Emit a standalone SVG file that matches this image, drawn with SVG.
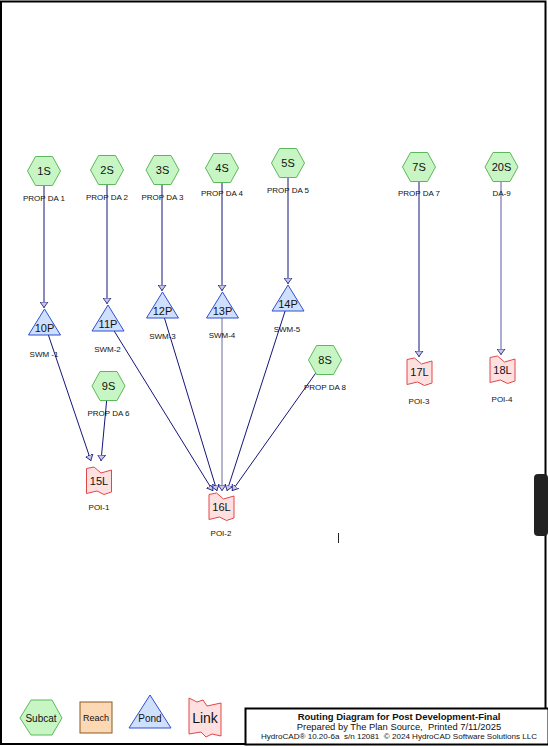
<svg xmlns="http://www.w3.org/2000/svg" width="548" height="747" viewBox="0 0 548 747">
<style>
text{font-family:"Liberation Sans",Arial,sans-serif;fill:#111;text-anchor:middle}
.id{font-size:11px}
.lb{font-size:8px}
.hex{fill:#c8f5c4;stroke:#5cb85c;stroke-width:1}
.pond{fill:#cfe0ff;stroke:#2f4fd0;stroke-width:1}
.link{fill:#ffe0e0;stroke:#e04848;stroke-width:1}
.reach{fill:#fdd8b4;stroke:#8a5a20;stroke-width:1}
.c{fill:none;stroke:#15157a;stroke-width:1;marker-end:url(#ah)}
</style>
<defs>
<marker id="ah" viewBox="0 0 6 9" refX="6" refY="4.5" markerWidth="6" markerHeight="9" markerUnits="userSpaceOnUse" orient="auto">
<path d="M0,0.5 L5.5,4.5 L0,8.5 Z" fill="#c6c8e6" stroke="#15157a" stroke-width="0.8"/>
</marker>
<path id="hx" d="M-16.5,0 L-8.5,-14.5 L8.5,-14.5 L16.5,0 L8.5,14.5 L-8.5,14.5 Z"/>
<path id="tri" d="M0,0 L16,26 L-16,26 Z"/>
<path id="lk" d="M-12.5,-12.5 L-5,-14 L2,-8 L12.5,-11 L12.5,11 L5,13.5 L-2,10 L-12.5,12.5 Z"/>
</defs>
<rect x="1" y="1.5" width="544.5" height="742.5" fill="#fff" stroke="#000" stroke-width="2"/>
<rect x="534" y="474" width="14" height="62" rx="4" fill="#222"/>
<g id="connectors">
<path class="c" d="M44,172 L44,308"/>
<path class="c" d="M107,170 L107,304"/>
<path class="c" d="M162,170 L162,291"/>
<path class="c" d="M222,168 L222,291"/>
<path class="c" d="M288,163 L288,284"/>
<path class="c" d="M419,167 L419,357"/>
<path class="c" d="M501,167 L501,355" style="stroke:#5a5aa8"/>
<path class="c" d="M45,325 L91,461"/>
<path class="c" d="M108,386 L101,461"/>
<path class="c" d="M108,321 L213,491"/>
<path class="c" d="M162,310 L217,491"/>
<path class="c" d="M222,305 L222,491" style="stroke:#6a6a9a"/>
<path class="c" d="M288,302 L227,491"/>
<path class="c" d="M325,360 L232,491"/>
</g>
<g id="n1S"><use href="#hx" x="44" y="171" class="hex"/><text class="id" x="44" y="175">1S</text><text class="lb" x="44" y="201">PROP DA 1</text></g>
<g id="n2S"><use href="#hx" x="107" y="170" class="hex"/><text class="id" x="107" y="174">2S</text><text class="lb" x="107" y="200">PROP DA 2</text></g>
<g id="n3S"><use href="#hx" x="162.5" y="170" class="hex"/><text class="id" x="162.5" y="174">3S</text><text class="lb" x="162.5" y="200">PROP DA 3</text></g>
<g id="n4S"><use href="#hx" x="222" y="168" class="hex"/><text class="id" x="222" y="172">4S</text><text class="lb" x="222" y="196">PROP DA 4</text></g>
<g id="n5S"><use href="#hx" x="288" y="163" class="hex"/><text class="id" x="288" y="167">5S</text><text class="lb" x="288" y="193">PROP DA 5</text></g>
<g id="n7S"><use href="#hx" x="419" y="167" class="hex"/><text class="id" x="419" y="171">7S</text><text class="lb" x="419" y="196">PROP DA 7</text></g>
<g id="n20S"><use href="#hx" x="501.5" y="167" class="hex"/><text class="id" x="501.5" y="171">20S</text><text class="lb" x="501.5" y="196">DA-9</text></g>
<g id="n8S"><use href="#hx" x="325" y="360" class="hex"/><text class="id" x="325" y="364">8S</text><text class="lb" x="325" y="390">PROP DA 8</text></g>
<g id="n9S"><use href="#hx" x="108.5" y="386" class="hex"/><text class="id" x="108.5" y="390">9S</text><text class="lb" x="108.5" y="416">PROP DA 6</text></g>
<g id="n10P"><use href="#tri" x="44.5" y="309" class="pond"/><text class="id" x="44.5" y="332">10P</text><text class="lb" x="44" y="357">SWM -1</text></g>
<g id="n11P"><use href="#tri" x="108" y="305" class="pond"/><text class="id" x="108" y="328">11P</text><text class="lb" x="107.5" y="352">SWM-2</text></g>
<g id="n12P"><use href="#tri" x="162.5" y="292" class="pond"/><text class="id" x="162.5" y="315">12P</text><text class="lb" x="162.5" y="339">SWM-3</text></g>
<g id="n13P"><use href="#tri" x="222.5" y="292" class="pond"/><text class="id" x="222.5" y="315">13P</text><text class="lb" x="222" y="338">SWM-4</text></g>
<g id="n14P"><use href="#tri" x="288" y="285" class="pond"/><text class="id" x="288" y="308">14P</text><text class="lb" x="287" y="332">SWM-5</text></g>
<g id="n15L"><use href="#lk" x="99" y="481" class="link"/><text class="id" x="99" y="485">15L</text><text class="lb" x="99" y="510">POI-1</text></g>
<g id="n16L"><use href="#lk" x="221.5" y="507" class="link"/><text class="id" x="221.5" y="511">16L</text><text class="lb" x="221" y="536">POI-2</text></g>
<g id="n17L"><use href="#lk" x="419.5" y="372" class="link"/><text class="id" x="419.5" y="376">17L</text><text class="lb" x="419" y="404">POI-3</text></g>
<g id="n18L"><use href="#lk" x="502.5" y="370" class="link"/><text class="id" x="502.5" y="374">18L</text><text class="lb" x="502" y="402">POI-4</text></g>
<line x1="338.5" y1="533" x2="338.5" y2="543" stroke="#222" stroke-width="1"/>
<g id="legend">
<path d="M20,718 L31,700 L52,700 L62,718 L52,735 L31,735 Z" class="hex"/>
<text x="41" y="722" style="font-size:10px">Subcat</text>
<rect x="80" y="702" width="32" height="31" class="reach"/>
<text x="96" y="721" style="font-size:9px">Reach</text>
<path d="M150,695 L171,728 L129,728 Z" class="pond"/>
<text x="150" y="722" style="font-size:10px">Pond</text>
<path d="M189,698 L197,702 L203,700 L207,706 L221,703 L221,736 L212,734 L206,737 L201,732 L189,734 Z" class="link"/>
<text x="205" y="723" style="font-size:14px">Link</text>
</g>
<g id="title">
<rect x="245.5" y="708.5" width="303" height="36" fill="#fff" stroke="#000" stroke-width="2"/>
<text x="399" y="720" style="font-size:9.5px;font-weight:bold">Routing Diagram for Post Development-Final</text>
<text x="399" y="730" xml:space="preserve" style="font-size:9.4px;white-space:pre">Prepared by The Plan Source,  Printed 7/11/2025</text>
<text x="399" y="739" xml:space="preserve" textLength="276" lengthAdjust="spacingAndGlyphs" style="font-size:7.8px;white-space:pre">HydroCAD® 10.20-6a  s/n 12081  © 2024 HydroCAD Software Solutions LLC</text>
</g>
</svg>
